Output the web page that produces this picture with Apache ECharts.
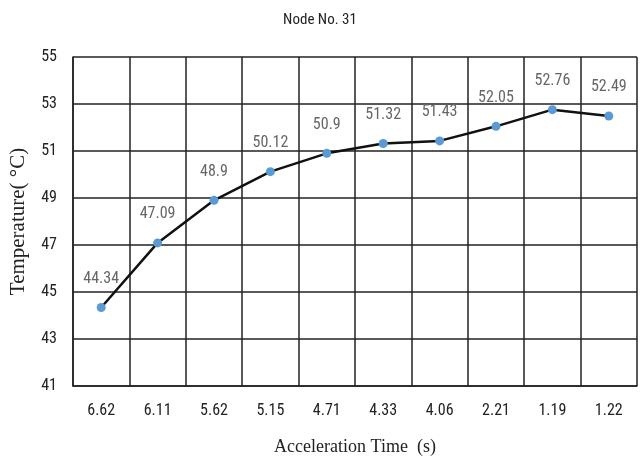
<!DOCTYPE html>
<html><head><meta charset="utf-8">
<script src="https://cdn.jsdelivr.net/npm/echarts@6/dist/echarts.min.js"></script>
<style>html,body{margin:0;padding:0;background:#fff}#c{width:640px;height:461px}</style>
</head><body><div id="c"></div>
<script>
var categories = ['6.62','6.11','5.62','5.15','4.71','4.33','4.06','2.21','1.19','1.22'];
var temperatures = [44.34, 47.09, 48.9, 50.12, 50.9, 51.32, 51.43, 52.05, 52.76, 52.49];
var yTicks = [41, 43, 45, 47, 49, 51, 53, 55];
var titleText = 'Node No. 31';
var xName = 'Acceleration Time  (s)';
var yName = 'Temperature( °C)';

var chart = echarts.init(document.getElementById('c'));
var narrow = "'Liberation Sans Narrow', 'Arial Narrow', 'Roboto Condensed', sans-serif";
chart.setOption({
  animation: false,
  title: { text: titleText, left: 'center', top: 8,
    textStyle: { fontFamily: narrow, fontSize: 15, fontWeight: 'normal', color: '#222' } },
  grid: { left: 72, right: 3, top: 57, bottom: 73 },
  xAxis: {
    type: 'category', data: categories, boundaryGap: true,
    name: xName, nameLocation: 'middle', nameGap: 52,
    nameTextStyle: { fontFamily: "'Liberation Serif','Times New Roman',serif", fontSize: 18, color: '#222' },
    axisLine: { lineStyle: { color: '#222', width: 1.5 } },
    axisTick: { show: false },
    axisLabel: { fontFamily: narrow, fontSize: 16, color: '#222', margin: 17 },
    splitLine: { show: true, interval: 0, lineStyle: { color: '#222', width: 1.5 } }
  },
  yAxis: {
    type: 'value', min: yTicks[0], max: yTicks[yTicks.length - 1], interval: 2,
    name: yName, nameLocation: 'middle', nameGap: 44, nameRotate: 90,
    nameTextStyle: { fontFamily: "'Liberation Serif','Times New Roman',serif", fontSize: 21, color: '#222' },
    axisLine: { show: true, lineStyle: { color: '#222', width: 1.5 } },
    axisTick: { show: false },
    axisLabel: { fontFamily: narrow, fontSize: 16, color: '#222', margin: 16 },
    splitLine: { show: true, lineStyle: { color: '#222', width: 1.5 } }
  },
  series: [{
    type: 'line', data: temperatures,
    symbol: 'circle', symbolSize: 9,
    lineStyle: { color: '#111', width: 2.5 },
    itemStyle: { color: '#5b9bd5' },
    label: { show: true, position: 'top', distance: 16,
      fontFamily: narrow, fontSize: 16, color: '#666' }
  }]
});
</script></body></html>
